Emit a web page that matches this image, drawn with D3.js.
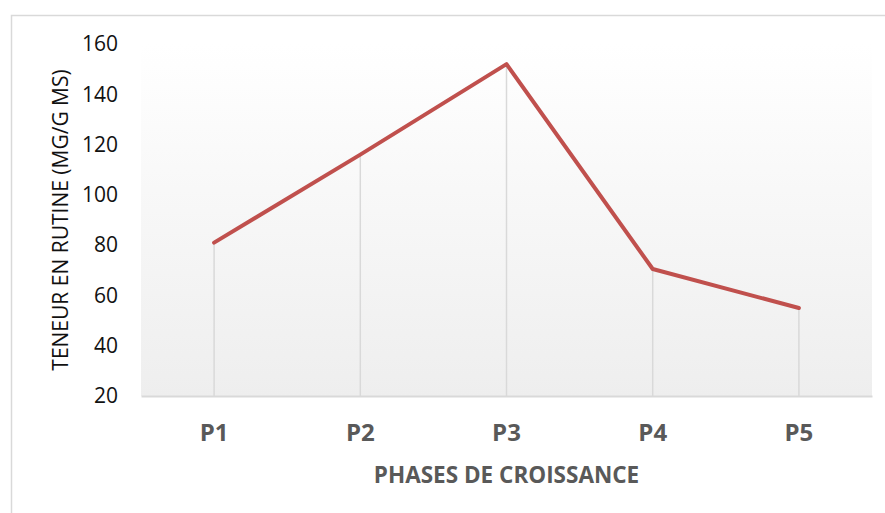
<!DOCTYPE html>
<html>
<head>
<meta charset="utf-8">
<script src="https://cdn.jsdelivr.net/npm/d3@7"></script>
<style>
  html, body { margin: 0; padding: 0; background: #fff; }
  svg { display: block; }
</style>
</head>
<body>
<svg id="chart" width="885" height="513"></svg>
<script>
// Rutin content by growth phase
const phases = ["P1", "P2", "P3", "P4", "P5"];
const rutin = [81, 116, 152, 70.5, 55];
const yTicks = [20, 40, 60, 80, 100, 120, 140, 160];
const yTitle = "TENEUR EN RUTINE (MG/G MS)";
const xTitle = "PHASES DE CROISSANCE";

const svg = d3.select("#chart");
const W = 885, H = 513;
const plot = { left: 141, right: 872, top: 44, bottom: 396 };

// chart frame
svg.append("rect")
  .attr("x", 11.5).attr("y", 15.5)
  .attr("width", W + 10).attr("height", H + 10)
  .attr("fill", "#fff").attr("stroke", "#d9d9d9").attr("stroke-width", 1.5);

// plot area gradient
const defs = svg.append("defs");
const grad = defs.append("linearGradient").attr("id", "plotBg")
  .attr("x1", 0).attr("y1", 0).attr("x2", 0).attr("y2", 1);
grad.append("stop").attr("offset", "0%").attr("stop-color", "#ffffff");
grad.append("stop").attr("offset", "100%").attr("stop-color", "#eeeeee");

svg.append("rect")
  .attr("x", plot.left).attr("y", plot.top)
  .attr("width", plot.right - plot.left).attr("height", plot.bottom - plot.top)
  .attr("fill", "url(#plotBg)");

const x = d3.scaleBand().domain(phases).range([plot.left, plot.right]);
const y = d3.scaleLinear().domain([20, 160]).range([plot.bottom, plot.top]);
const cx = d => x(d) + x.bandwidth() / 2;

// drop lines from each point to the category axis
svg.append("g").selectAll("line").data(phases).join("line")
  .attr("x1", d => cx(d)).attr("x2", d => cx(d))
  .attr("y1", (d, i) => y(rutin[i])).attr("y2", plot.bottom)
  .attr("stroke", "#d9d9d9").attr("stroke-width", 1.5);

// category axis
const xAxis = svg.append("g")
  .attr("transform", `translate(0,${plot.bottom})`)
  .call(d3.axisBottom(x).tickSize(0));
xAxis.select(".domain").attr("stroke", "#d9d9d9").attr("stroke-width", 2);
xAxis.selectAll("text")
  .attr("font-family", "'Open Sans', sans-serif")
  .attr("font-weight", "bold")
  .attr("font-size", 24)
  .attr("fill", "#595959")
  .attr("dy", "0.35em")
  .attr("y", 37);

// value axis
const yAxis = svg.append("g")
  .attr("transform", `translate(${plot.left},0)`)
  .call(d3.axisLeft(y).tickValues(yTicks).tickSize(0).tickPadding(23));
yAxis.select(".domain").remove();
yAxis.selectAll("text")
  .attr("font-family", "'Open Sans', sans-serif")
  .attr("font-size", 21)
  .attr("fill", "#111");

// series line
const line = d3.line()
  .x((d, i) => cx(phases[i]))
  .y(d => y(d));
svg.append("path")
  .datum(rutin)
  .attr("d", line)
  .attr("fill", "none")
  .attr("stroke", "#c0504d")
  .attr("stroke-width", 4)
  .attr("stroke-linejoin", "round")
  .attr("stroke-linecap", "round");

// axis titles
svg.append("text")
  .attr("transform", `translate(60,${(plot.top + plot.bottom) / 2}) rotate(-90)`)
  .attr("text-anchor", "middle")
  .attr("dominant-baseline", "central")
  .attr("font-family", "'Open Sans', sans-serif")
  .attr("font-size", 21)
  .attr("fill", "#111")
  .text(yTitle);

svg.append("text")
  .attr("x", (plot.left + plot.right) / 2)
  .attr("y", 474)
  .attr("text-anchor", "middle")
  .attr("dominant-baseline", "central")
  .attr("font-family", "'Open Sans', sans-serif")
  .attr("font-weight", "bold")
  .attr("font-size", 22.5)
  .attr("fill", "#595959")
  .text(xTitle);
</script>
</body>
</html>
